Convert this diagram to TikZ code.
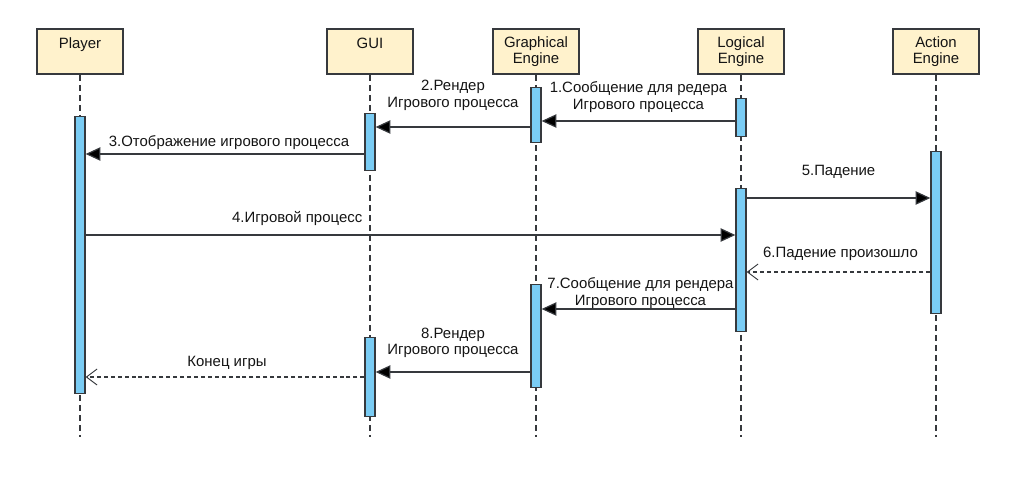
\documentclass[tikz,border=0pt]{standalone}
\usepackage{fontspec}
\setmainfont{Liberation Sans}
\usetikzlibrary{arrows.meta,positioning}
\definecolor{Ink}{HTML}{141414}
\definecolor{Frame}{HTML}{36393D}
\definecolor{Cream}{HTML}{FFF2CC}
\definecolor{Sky}{HTML}{7ACCF4}
\tikzset{
  actor/.style={draw=Frame,fill=Cream,line width=1.3pt,minimum width=64.5pt,minimum height=33.75pt,inner sep=0pt,align=center,font=\fontsize{11.2}{12}\selectfont,text=Ink},
  lifeline/.style={draw=Frame,line width=0.9pt,dash pattern=on 4.5pt off 3pt},
  bar/.style={draw=Frame,fill=Sky,line width=1pt,minimum width=7.5pt,inner sep=0pt,anchor=north},
  msg/.style={-{Triangle[length=11pt,width=10pt,fill=black]},line width=0.9pt,draw=Frame},
  reply/.style={-{Straight Barb[length=8pt,width=12pt,line width=0.7pt]},line width=0.9pt,draw=Frame,dash pattern=on 3pt off 2.2pt},
  lbl/.style={font=\fontsize{11.2}{12.5}\selectfont,text=Ink,align=center,inner sep=0pt}
}
\begin{document}
\begin{tikzpicture}[x=0.75pt,y=-0.75pt]
  \useasboundingbox (0,0) rectangle (1015,500);
  % participants
  \node[actor] (player) at (80,51.5) {Player\\\mbox{}};
  \node[actor] (gui) at (370,51.5) {GUI\\\mbox{}};
  \node[actor] (graph) at (536,51.5) {Graphical\\Engine};
  \node[actor] (logic) at (741,51.5) {Logical\\Engine};
  \node[actor] (action) at (936,51.5) {Action\\Engine};
  % lifelines
  \foreach \who in {player,gui,graph,logic,action}
    \draw[lifeline] (\who.south) -- (\who.south |- 0,437);
  % activations
  \node[bar,minimum height=207.75pt] (pbar) at (80,116) {};
  \node[bar,minimum height=42.75pt] (gbar1) at (370,113) {};
  \node[bar,minimum height=59.25pt] (gbar2) at (370,337) {};
  \node[bar,minimum height=41.25pt] (rbar1) at (536,87) {};
  \node[bar,minimum height=77.25pt] (rbar2) at (536,284) {};
  \node[bar,minimum height=28.5pt] (lbar1) at (741,98) {};
  \node[bar,minimum height=107.25pt] (lbar2) at (741,188) {};
  \node[bar,minimum height=121.5pt] (abar) at (936,151) {};
  % messages
  \draw[msg] (lbar1.west |- 0,121) -- (rbar1.east |- 0,121)
    node[lbl,midway,yshift=18pt] {1.Сообщение для редера\\Игрового процесса};
  \draw[msg] (rbar1.west |- 0,127) -- (gbar1.east |- 0,127)
    node[lbl,midway,yshift=23.5pt] {2.Рендер\\Игрового процесса};
  \draw[msg] (gbar1.west |- 0,154) -- (pbar.east |- 0,154)
    node[lbl,midway,yshift=8.25pt,xshift=3pt] {3.Отображение игрового процесса};
  \draw[msg] (lbar2.east |- 0,198) -- (abar.west |- 0,198)
    node[lbl,midway,yshift=19.5pt] {5.Падение};
  \draw[msg] (pbar.east |- 0,235) -- (lbar2.west |- 0,235)
    node[lbl,midway,yshift=12pt,xshift=-85pt] {4.Игровой процесс};
  \draw[reply] (abar.west |- 0,272) -- (lbar2.east |- 0,272)
    node[lbl,midway,yshift=13.5pt,xshift=1.5pt] {6.Падение произошло};
  \draw[msg] (lbar2.west |- 0,309) -- (rbar2.east |- 0,309)
    node[lbl,midway,yshift=12pt,xshift=1.5pt] {7.Сообщение для рендера\\Игрового процесса};
  \draw[msg] (rbar2.west |- 0,372) -- (gbar2.east |- 0,372)
    node[lbl,midway,yshift=22pt] {8.Рендер\\Игрового процесса};
  \draw[reply] (gbar2.west |- 0,377) -- (pbar.east |- 0,377)
    node[lbl,midway,yshift=10.5pt,xshift=1.5pt] {Конец игры};
\end{tikzpicture}
\end{document}
